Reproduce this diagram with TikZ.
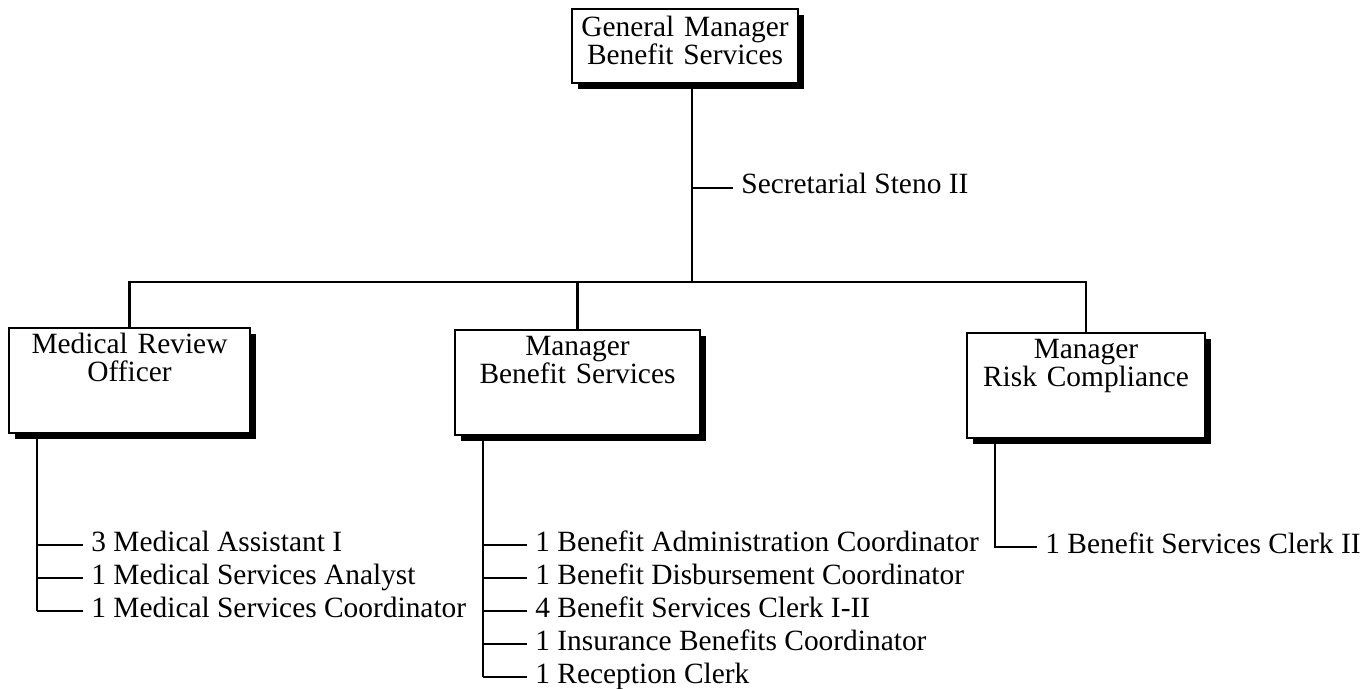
\documentclass[tikz,border=0pt]{standalone}
\usepackage{fontspec}
\setmainfont{Liberation Serif}
\usetikzlibrary{shadows}

\begin{document}
\begin{tikzpicture}[
    x=0.5pt, y=-0.5pt,
    every node/.style={font=\fontsize{14.7}{14}\selectfont},
    post/.style={draw, line width=1.2pt, fill=white, align=center, inner sep=0pt,
      anchor=north, text height=12.5pt, text depth=40pt,
      drop shadow={shadow xshift=3pt, shadow yshift=-3pt, fill=black, opacity=1}},
    item/.style={anchor=west, inner xsep=4pt, inner ysep=0pt, text height=0.6em, text depth=0pt},
    link/.style={line width=1.2pt}
  ]
  \useasboundingbox (0,0) rectangle (1364,689);

  % posts
  \node[post, text width=113pt, text height=13.5pt, text depth=23.5pt] (gm) at (685,8) {General Manager\\Benefit Services};
  \node[post, text width=120.5pt] (mro) at (129.5,327) {Medical Review\\Officer};
  \node[post, text width=122.5pt] (mbs) at (577.5,329) {Manager\\Benefit Services};
  \node[post, text width=119pt] (mrc) at (1086,332) {Manager\\Risk Compliance};

  % spine and branches
  \coordinate (bar) at (692,282);
  \draw[link] (gm.south -| bar) -- (bar);
  \draw[link] (mro.north) |- (bar) -| (mrc.north);
  \draw[link] (mbs.north) -- (mbs.north |- bar);

  \node[item] (sec) at (733,188) {Secretarial Steno II};
  \draw[link] (sec.west -| bar) -- (sec.west);

  % staff lists
  \coordinate (mx) at (37,0);
  \coordinate (bx) at (483,0);
  \coordinate (rx) at (995,0);

  \foreach \txt [count=\i] in {3 Medical Assistant I, 1 Medical Services Analyst, 1 Medical Services Coordinator} {
    \node[item] (m\i) at (83,{545+33*(\i-1)}) {\txt};
    \draw[link] (m\i.west -| mx) -- (m\i.west);
  }
  \draw[link] (mro.south -| mx) -- (m3.west -| mx);

  \foreach \txt [count=\i] in {1 Benefit Administration Coordinator, 1 Benefit Disbursement Coordinator, 4 Benefit Services Clerk I-II, 1 Insurance Benefits Coordinator, 1 Reception Clerk} {
    \node[item] (b\i) at (527,{545+33*(\i-1)}) {\txt};
    \draw[link] (b\i.west -| bx) -- (b\i.west);
  }
  \draw[link] (mbs.south -| bx) -- (b5.west -| bx);

  \node[item] (r1) at (1037,547) {1 Benefit Services Clerk II};
  \draw[link] (mrc.south -| rx) |- (r1.west);
\end{tikzpicture}
\end{document}
